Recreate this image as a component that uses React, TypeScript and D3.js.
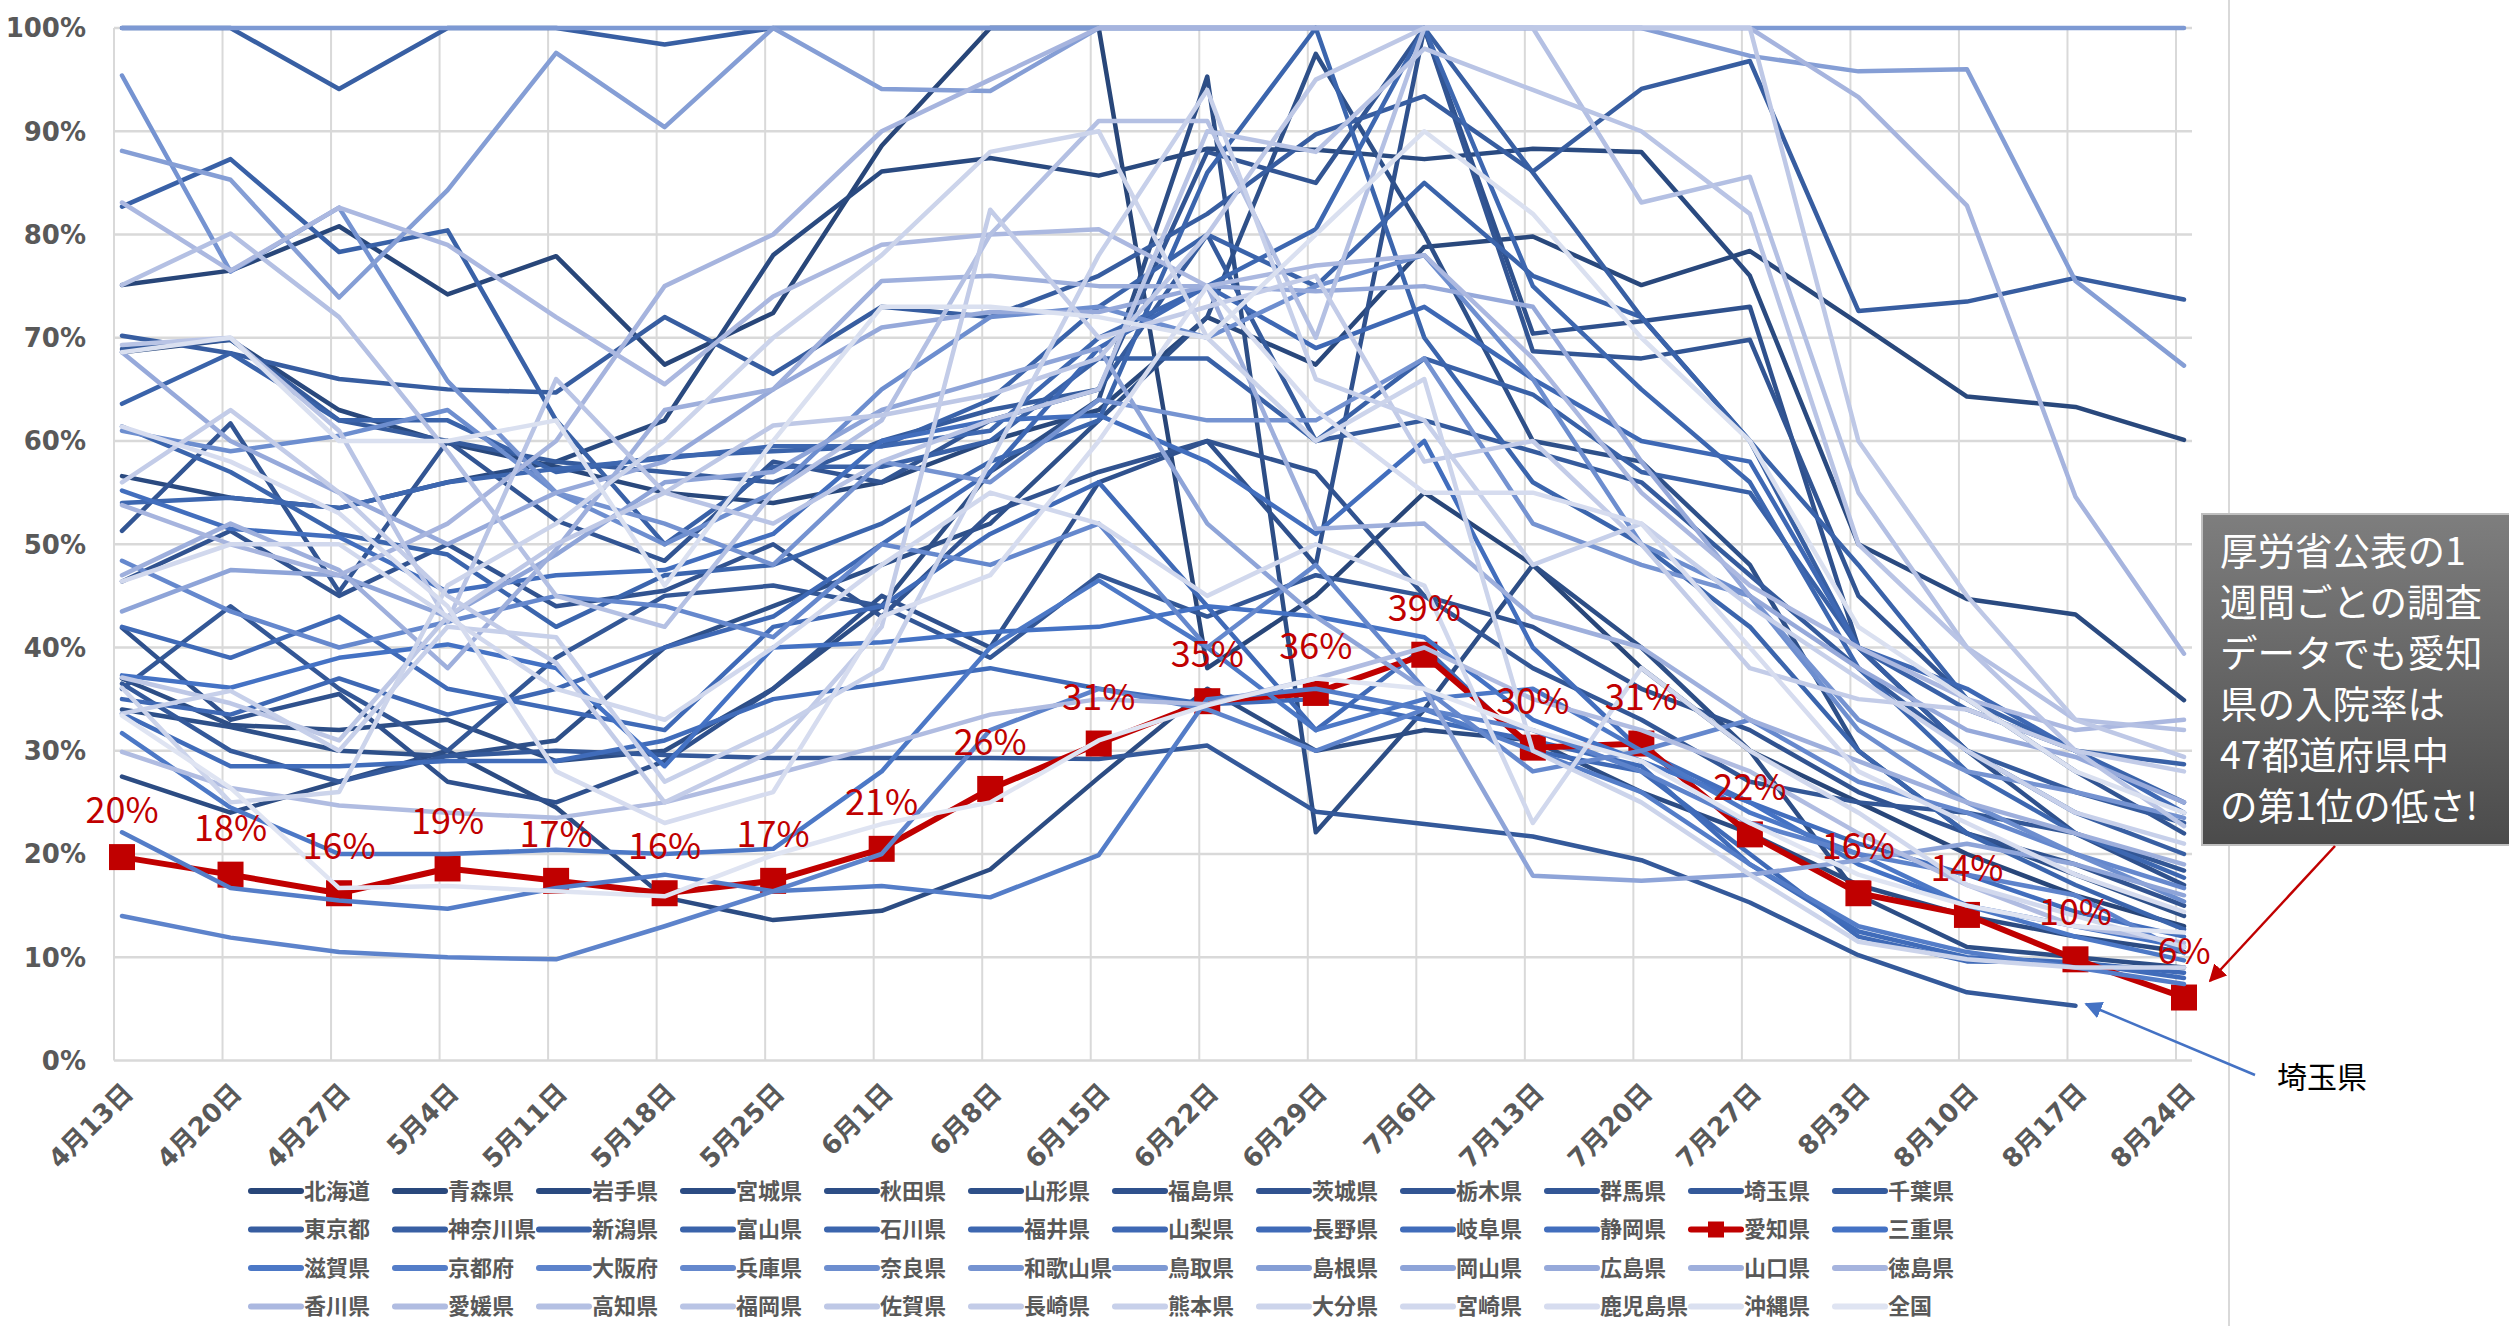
import React, { useEffect, useRef } from "react";
import * as d3 from "d3";

// ---------- Data ----------
const dates = [
  "4月13日", "4月20日", "4月27日", "5月4日", "5月11日", "5月18日", "5月25日",
  "6月1日", "6月8日", "6月15日", "6月22日", "6月29日", "7月6日", "7月13日",
  "7月20日", "7月27日", "8月3日", "8月10日", "8月17日", "8月24日",
];

const prefectures = [
  "北海道", "青森県", "岩手県", "宮城県", "秋田県", "山形県", "福島県", "茨城県", "栃木県", "群馬県", "埼玉県", "千葉県",
  "東京都", "神奈川県", "新潟県", "富山県", "石川県", "福井県", "山梨県", "長野県", "岐阜県", "静岡県", "愛知県", "三重県",
  "滋賀県", "京都府", "大阪府", "兵庫県", "奈良県", "和歌山県", "鳥取県", "島根県", "岡山県", "広島県", "山口県", "徳島県",
  "香川県", "愛媛県", "高知県", "福岡県", "佐賀県", "長崎県", "熊本県", "大分県", "宮崎県", "鹿児島県", "沖縄県", "全国",
];

// hospitalization rate (%) per week
const hokkaido = [75.1, 76.5, 80.8, 74.2, 77.9, 67.4, 72.4, 88.6, 100, 100, 38, 45, 55, 48, 38, 30, 25, 20, 16, 13];
const aomori = [68.6, 69.8, 63, 59.8, 57.5, 55, 54, 56, 60, 63, 72, 67.4, 78.8, 79.8, 75.1, 78.4, 71.4, 64.3, 63.3, 60.1];
const iwate = [56.6, 54.5, 53.5, 56, 58, 62, 78, 86.1, 87.4, 85.7, 88.3, 88.2, 87.3, 88.3, 88.0, 76, 50, 44.7, 43.2, 34.9];
const miyagi = [27.5, 24, 27, 30, 24.5, 15.8, 13.6, 14.5, 18.5, 27.4, 36, 30, 32, 31, 26, 22, 17, 14, 12, 10.5];
const akita = [37, 32.5, 32, 33, 29, 30, 36, 44, 57, 64, 95.3, 22.1, 34, 48, 40, 30, 16, 11, 10, 9];
const yamagata = [34, 32.3, 30, 29.5, 31, 40, 44, 48, 52, 62, 72, 97.5, 80, 60, 58, 48, 30, 22, 18, 14];
const fukushima = [41.9, 33, 35.5, 27, 25, 29, 36, 45, 40, 56, 60, 48, 100, 70.4, 71.6, 73, 40, 30, 22, 17];
const ibaraki = [46.4, 51.3, 45, 50, 44, 45.5, 50, 43, 53, 57, 60, 57, 45, 42, 36, 32, 26, 22, 19, 15];
const tochigi = [51.3, 61.7, 45.4, 60, 52.3, 48.4, 58, 56, 62, 65, 88, 85, 100, 68.7, 68, 69.8, 45, 35, 28, 22];
const gunma = [36, 44, 36, 30, 39, 45, 46, 44, 39, 47, 43, 47, 45, 38, 33, 27, 25, 24, 22, 18.4];
const saitama = [36.5, 30, 27, 29.5, 30, 29.6, 29.3, 29.3, 29.3, 29.2, 30.5, 24.1, 22.9, 21.7, 19.4, 15.3, 10.2, 6.6, 5.3, null];
const chiba = [68.9, 69.8, 62, 60, 58, 57, 56, 60, 63, 65, 80, 60, 62, 59, 56, 47, 38, 30, 26, 23];
const tokyo = [70.2, 68.5, 66, 65, 64.7, 72, 66.5, 73, 72, 76, 82, 89.7, 93.4, 86.1, 94.1, 96.8, 72.6, 73.5, 75.8, 73.7];
const kanagawa = [100, 100, 94.1, 100, 100, 98.4, 100, 100, 100, 100, 100, 100, 100, 86, 72, 60, 40, 30, 24, 20];
const niigata = [82.7, 87.3, 78.3, 80.4, 62, 50, 57.5, 57.5, 60, 68, 68, 60, 68, 64.5, 57, 55, 40, 34, 30, 28.7];
const toyama = [63.6, 68.5, 62, 62, 57, 58.5, 59, 59.5, 64, 73, 80, 75, 85, 76, 72, 60, 48, 35, 30, 25];
const ishikawa = [61.4, 57, 51, 49, 42, 47, 48, 52, 58, 62, 86, 100, 70, 56, 50, 42, 30, 22, 17, 12.7];
const fukui = [54, 54.5, 53.5, 56, 57.3, 58.3, 59.5, 59.5, 61, 70, 75, 80.5, 100, 75, 65, 56, 38, 28, 22, 17.7];
const yamanashi = [35, 33.5, 37, 33.5, 36, 40, 43, 50, 57, 69, 75, 69, 73, 66, 60, 58, 40, 36, 30, 24];
const nagano = [42, 39, 43, 36, 34, 32, 42, 44, 51, 56, 44, 32, 40, 30, 28, 20, 12, 9.6, 9.5, 8.5];
const gifu = [33.6, 28.5, 28.5, 29, 29, 31, 35, 36.5, 38, 36, 34.5, 35, 33, 31, 28.5, 19, 12.5, 10, 9.5, 8];
const shizuoka = [55.2, 51.5, 50.7, 45.4, 47, 47.5, 51, 60, 62, 62.5, 58, 51, 60, 40, 30, 25, 21, 18, 14.4, 12];
const aichi = [19.7, 18.0, 16.2, 18.6, 17.4, 16.2, 17.4, 20.5, 26.3, 30.7, 34.8, 35.6, 39.3, 30.3, 30.7, 21.9, 16.2, 14.1, 9.8, 6.1];
const mie = [37.3, 36.1, 39, 40.3, 38, 28.5, 40, 40.5, 41.5, 42, 44, 43, 41, 33, 29, 25, 19, 15, 13, 11];
const shiga = [31.7, 24.5, 20, 20, 20.4, 20, 20.5, 28, 40, 46.5, 40, 32, 35, 36, 30, 24, 20, 15, 12, 9.7];
const kyoto = [22.1, 16.7, 15.5, 14.7, 16.7, 18, 16.4, 16.9, 15.8, 19.9, 35, 36, 34, 30, 26, 19, 13, 10.5, 9, 7.4];
const osaka = [14.0, 11.9, 10.5, 10.0, 9.8, 13.0, 16.4, 20, 32, 36, 34, 30, 34, 32, 28, 23, 20, 18, 16, 10.4];
const hyogo = [48.4, 43.5, 40, 42.5, 45, 44, 41, 50, 48, 52, 40, 48, 36, 28, 30, 33, 27, 24, 20, 16.7];
const nara = [61, 59, 60.5, 63, 55, 50, 55, 65, 72, 73, 70, 75, 78, 66, 50, 45, 32, 25, 20, 15.4];
const wakayama = [95.4, 76.4, 82.6, 65.8, 55, 52, 48, 58, 56, 64, 62, 62, 68, 52, 48, 45, 33, 28, 26, 23.5];
const tottori = [100, 100, 100, 100, 100, 100, 100, 100, 100, 100, 100, 100, 100, 100, 100, 100, 100, 100, 100, 100];
const shimane = [88.1, 85.3, 73.9, 84.3, 97.6, 90.4, 100, 94.1, 93.9, 100, 100, 100, 100, 100, 100, 97.3, 95.8, 96, 75.5, 67.3];
const okayama = [43.5, 47.5, 47, 43, 49, 56, 57, 63, 66, 69, 52, 43, 36, 17.9, 17.4, 18, 19.4, 21, 19, 16];
const hiroshima = [68.6, 60, 55, 50, 55, 58, 65, 71, 72.5, 72.5, 75, 74.5, 75, 73, 58, 45, 38, 32, 29.4, 25];
const yamaguchi = [47, 52, 47.5, 38, 49.5, 63, 65, 75.5, 76, 75, 75, 51.5, 52, 43, 40, 33, 29, 25, 22, 19];
const tokushima = [53.8, 50, 47, 52, 60, 75, 80, 90, 95, 100, 100, 100, 100, 100, 100, 100, 93.3, 82.8, 54.6, 39.4];
const kagawa = [83.1, 76.5, 82.6, 79, 72, 65.5, 74, 79, 80, 80.5, 75, 77, 78, 68, 55, 46, 40, 35, 32, 33];
const ehime = [29.9, 26.4, 24.7, 24.0, 23.5, 25.0, 27.7, 30.5, 33.5, 35, 34.5, 37, 40, 35, 32, 28, 22, 17, 13, 11.4];
const kochi = [75.1, 80.1, 72, 59, 45, 42, 55, 62, 80, 91, 91, 70, 100, 100, 83.1, 85.6, 55, 40, 33, 32];
const fukuoka = [69.3, 70, 61, 42.5, 66, 55, 52, 58, 62, 65, 90, 88, 98, 94, 90, 82, 50, 40, 30, 22.7];
const saga = [37.1, 34.6, 31, 43, 50, 55, 61.5, 62.5, 64.5, 68, 80, 95, 100, 100, 100, 100, 60, 45, 33, 29.4];
const nagasaki = [56, 63, 55, 45, 38.5, 25, 30, 42, 82.4, 70, 73, 76, 58, 60, 50, 38, 35, 34, 30, 28];
const kumamoto = [33.6, 35.8, 30, 42, 41, 27, 32, 38, 58, 78, 94, 66, 62, 48, 52, 44, 37, 30, 24, 21];
const oita = [36.1, 25, 26, 46, 52, 60, 70, 78, 88, 90, 70, 60, 66, 30, 25, 18, 11.5, 9.8, 9, 9];
const miyazaki = [46.4, 50, 50, 43, 36, 33, 40, 48, 55, 52, 45, 50, 46, 23, 38, 30, 24, 17, 14, 11];
const kagoshima = [61.4, 58, 53, 44, 28, 23, 26, 43, 47, 60, 75, 63, 55, 55, 52, 40, 28, 23, 18, 14.4];
const okinawa = [68.6, 70, 60, 60, 62, 46, 60, 73, 73, 72, 70, 80, 90, 82, 70, 60, 42, 35, 28, 24];
const zenkoku = [33.4, 26.4, 16.7, 16.9, 16.4, 15.9, 19.9, 22.9, 25.0, 31.0, 34.4, 37, 36, 32, 29, 23, 18, 15, 13, 12.4];

const seriesValues = [
  hokkaido, aomori, iwate, miyagi, akita, yamagata, fukushima, ibaraki, tochigi, gunma, saitama, chiba,
  tokyo, kanagawa, niigata, toyama, ishikawa, fukui, yamanashi, nagano, gifu, shizuoka, aichi, mie,
  shiga, kyoto, osaka, hyogo, nara, wakayama, tottori, shimane, okayama, hiroshima, yamaguchi, tokushima,
  kagawa, ehime, kochi, fukuoka, saga, nagasaki, kumamoto, oita, miyazaki, kagoshima, okinawa, zenkoku,
];

const yTicks = [0, 10, 20, 30, 40, 50, 60, 70, 80, 90, 100];

const calloutLines = [
  "厚労省公表の1",
  "週間ごとの調査",
  "データでも愛知",
  "県の入院率は",
  "47都道府県中",
  "の第1位の低さ!",
];

const W = 2509;
const H = 1326;
const AICHI = 22;
const RED = "#c00000";

const App: React.FC = () => {
  const svgRef = useRef<SVGSVGElement | null>(null);

  useEffect(() => {
    const svg = d3.select(svgRef.current);
    svg.selectAll("*").remove();

    const x = d3.scalePoint<string>().domain(dates).range([122, 2184]);
    const y = d3.scaleLinear().domain([0, 100]).range([1060.5, 28]);
    const gridShift = -8;

    const color = d3
      .scaleLinear<string>()
      .domain([0, 23, 35, 47])
      .range(["#284679", "#4472c4", "#a6b4de", "#dfe4f2"])
      .interpolate(d3.interpolateRgb);

    const defs = svg.append("defs");
    const grad = defs
      .append("linearGradient")
      .attr("id", "boxGrad")
      .attr("x1", 0)
      .attr("y1", 0)
      .attr("x2", 0)
      .attr("y2", 1);
    grad.append("stop").attr("offset", "0%").attr("stop-color", "#7e7e7e");
    grad.append("stop").attr("offset", "100%").attr("stop-color", "#4b4b4b");

    ["redHead", "blueHead"].forEach((id, k) => {
      defs
        .append("marker")
        .attr("id", id)
        .attr("viewBox", "0 0 10 10")
        .attr("refX", 9)
        .attr("refY", 5)
        .attr("markerWidth", 7)
        .attr("markerHeight", 7)
        .attr("markerUnits", "strokeWidth")
        .attr("orient", "auto")
        .append("path")
        .attr("d", "M0,0 L10,5 L0,10 z")
        .attr("fill", k === 0 ? RED : "#4472c4");
    });

    svg.append("rect").attr("width", W).attr("height", H).attr("fill", "#fff");

    // chart border on the right
    svg
      .append("line")
      .attr("x1", 2229)
      .attr("x2", 2229)
      .attr("y1", 0)
      .attr("y2", H)
      .attr("stroke", "#d9d9d9")
      .attr("stroke-width", 2);

    // Gridlines
    const grid = svg.append("g");
    grid
      .selectAll("line.h")
      .data(yTicks)
      .enter()
      .append("line")
      .attr("x1", 114)
      .attr("x2", 2192)
      .attr("y1", (d) => y(d))
      .attr("y2", (d) => y(d))
      .attr("stroke", "#d9d9d9")
      .attr("stroke-width", 2.5);
    grid
      .selectAll("line.v")
      .data(dates)
      .enter()
      .append("line")
      .attr("x1", (d) => x(d)! + gridShift)
      .attr("x2", (d) => x(d)! + gridShift)
      .attr("y1", y(100))
      .attr("y2", y(0))
      .attr("stroke", "#d9d9d9")
      .attr("stroke-width", 2);

    // Y labels
    svg
      .append("g")
      .selectAll("text")
      .data(yTicks)
      .enter()
      .append("text")
      .attr("x", 86)
      .attr("y", (d) => y(d))
      .attr("dy", "0.36em")
      .attr("text-anchor", "end")
      .attr("font-family", "'DejaVu Sans', sans-serif")
      .attr("font-weight", "bold")
      .attr("font-size", 26)
      .attr("fill", "#595959")
      .text((d) => `${d}%`);

    // X labels
    svg
      .append("g")
      .selectAll("text")
      .data(dates)
      .enter()
      .append("text")
      .attr("transform", (d) => `translate(${x(d)! + 6},${1088}) rotate(-45)`)
      .attr("text-anchor", "end")
      .attr("dy", "0.36em")
      .attr("font-family", "'DejaVu Sans', 'Noto Sans CJK JP', sans-serif")
      .attr("font-weight", "bold")
      .attr("font-size", 26)
      .attr("fill", "#595959")
      .text((d) => d);

    // Lines
    const line = d3
      .line<number | null>()
      .defined((d) => d !== null)
      .x((_, i) => x(dates[i])!)
      .y((d) => y(d as number));

    const lines = svg.append("g");
    seriesValues.forEach((vals, s) => {
      const isAichi = s === AICHI;
      lines
        .append("path")
        .datum(vals)
        .attr("fill", "none")
        .attr("stroke", isAichi ? RED : color(s))
        .attr("stroke-width", isAichi ? 6 : 4.5)
        .attr("stroke-linejoin", "round")
        .attr("stroke-linecap", "round")
        .attr("d", line);
      if (isAichi) {
        lines
          .selectAll("rect.aichi")
          .data(vals)
          .enter()
          .append("rect")
          .attr("x", (_, i) => x(dates[i])! - 13)
          .attr("y", (d) => y(d as number) - 13)
          .attr("width", 26)
          .attr("height", 26)
          .attr("fill", RED);
      }
    });

    // Aichi data labels
    svg
      .append("g")
      .selectAll("text")
      .data(aichi)
      .enter()
      .append("text")
      .attr("x", (_, i) => x(dates[i])!)
      .attr("y", (d) => y(d) - 34)
      .attr("text-anchor", "middle")
      .attr("font-family", "'Noto Sans CJK JP', sans-serif")
      .attr("font-size", 36)
      .attr("fill", RED)
      .text((d) => `${Math.round(d)}%`);

    // Legend (4 rows x 12)
    const legend = svg.append("g");
    prefectures.forEach((name, s) => {
      const col = s % 12;
      const row = Math.floor(s / 12);
      const lx = 251 + col * 144;
      const ly = 1191 + row * 38.5;
      const g = legend.append("g").attr("transform", `translate(${lx},${ly})`);
      const isAichi = s === AICHI;
      g.append("line")
        .attr("x1", 0)
        .attr("x2", 50)
        .attr("stroke", isAichi ? RED : color(s))
        .attr("stroke-width", 6)
        .attr("stroke-linecap", "round");
      if (isAichi) {
        g.append("rect").attr("x", 17).attr("y", -8).attr("width", 16).attr("height", 16).attr("fill", RED);
      }
      g.append("text")
        .attr("x", 53)
        .attr("dy", "0.36em")
        .attr("font-family", "'Noto Sans CJK JP', sans-serif")
        .attr("font-weight", "bold")
        .attr("font-size", 22)
        .attr("fill", "#595959")
        .text(name);
    });

    // Callout box
    svg
      .append("rect")
      .attr("x", 2202)
      .attr("y", 514)
      .attr("width", 330)
      .attr("height", 331)
      .attr("fill", "url(#boxGrad)")
      .attr("stroke", "#bfbfbf")
      .attr("stroke-width", 2);
    svg
      .append("g")
      .selectAll("text")
      .data(calloutLines)
      .enter()
      .append("text")
      .attr("x", 2220)
      .attr("y", (_, i) => 551 + i * 51)
      .attr("dy", "0.36em")
      .attr("font-family", "'Noto Sans CJK JP', sans-serif")
      .attr("font-size", 37.5)
      .attr("fill", "#fff")
      .text((d) => d);

    // Arrows
    svg
      .append("line")
      .attr("x1", 2335)
      .attr("y1", 846)
      .attr("x2", 2210)
      .attr("y2", 981)
      .attr("stroke", RED)
      .attr("stroke-width", 2.5)
      .attr("marker-end", "url(#redHead)");
    svg
      .append("line")
      .attr("x1", 2255)
      .attr("y1", 1075)
      .attr("x2", 2086)
      .attr("y2", 1004)
      .attr("stroke", "#4472c4")
      .attr("stroke-width", 2.5)
      .attr("marker-end", "url(#blueHead)");
    svg
      .append("text")
      .attr("x", 2277)
      .attr("y", 1077)
      .attr("dy", "0.36em")
      .attr("font-family", "'Noto Sans CJK JP', sans-serif")
      .attr("font-size", 30)
      .attr("fill", "#000")
      .text("埼玉県");
  }, []);

  return (
    <div style={{ position: "absolute", left: 0, top: 0 }}>
      <svg ref={svgRef} width={W} height={H} style={{ display: "block" }} />
    </div>
  );
};

export default App;
